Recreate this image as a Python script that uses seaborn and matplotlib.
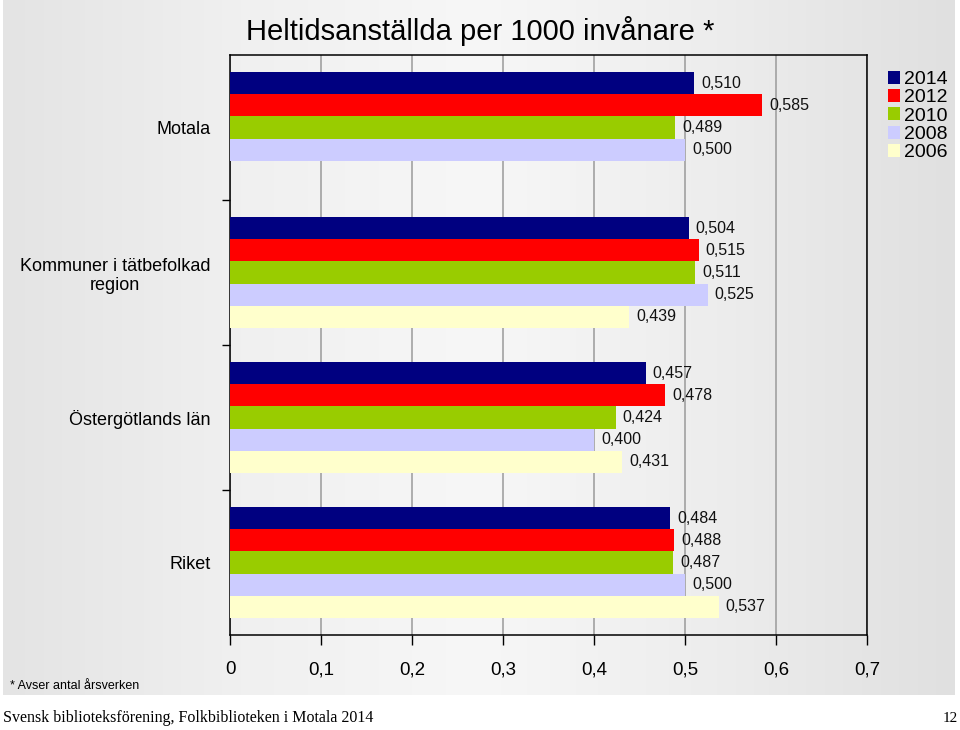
import numpy as np
import pandas as pd
import matplotlib
matplotlib.use('Agg')
import matplotlib.pyplot as plt
from matplotlib.colors import LinearSegmentedColormap
import seaborn as sns

# data
categories = ['Motala', 'Kommuner i tätbefolkad\nregion', 'Östergötlands län', 'Riket']
years = ['2014', '2012', '2010', '2008', '2006']
v2014 = [0.510, 0.504, 0.457, 0.484]
v2012 = [0.585, 0.515, 0.478, 0.488]
v2010 = [0.489, 0.511, 0.424, 0.487]
v2008 = [0.500, 0.525, 0.400, 0.500]
v2006 = [np.nan, 0.439, 0.431, 0.537]
colors = ['#000080', '#FF0000', '#99CC00', '#CCCCFF', '#FFFFCC']
xticks = [0, 0.1, 0.2, 0.3, 0.4, 0.5, 0.6, 0.7]

rows = []
for yr, vals in zip(years, [v2014, v2012, v2010, v2008, v2006]):
    for cat, v in zip(categories, vals):
        rows.append({'region': cat, 'year': yr, 'value': v})
df = pd.DataFrame(rows)

def main():
    sns.set_theme(style='white')
    plt.rcParams['font.family'] = ['Liberation Sans', 'DejaVu Sans']
    plt.rcParams['text.color'] = 'black'
    plt.rcParams['xtick.color'] = 'black'
    plt.rcParams['ytick.color'] = 'black'

    fig = plt.figure(figsize=(9.6, 7.3), dpi=100)
    fig.patch.set_facecolor('white')

    # grey gradient backdrop
    bg = fig.add_axes([0.003, 35 / 730, 952 / 960, 695 / 730], zorder=-5)
    cmap = LinearSegmentedColormap.from_list('bg', ['#E4E4E4', '#F0F0F0', '#F7F7F7', '#EDEDED', '#E0E0E0'])
    bg.imshow(np.linspace(0, 1, 256).reshape(1, -1), aspect='auto', cmap=cmap, extent=[0, 1, 0, 1])
    bg.axis('off')

    ax = fig.add_axes([230 / 960, 1 - 635 / 730, 637 / 960, 580 / 730])
    ax.set_facecolor('none')

    sns.barplot(data=df, y='region', x='value', hue='year', hue_order=years,
                order=categories, palette=colors, orient='h', width=0.76,
                saturation=1, errorbar=None, linewidth=0, ax=ax, zorder=3)

    for cont in ax.containers:
        widths = [b.get_width() for b in cont]
        labels = [f"{w:.3f}".replace('.', ',') if np.isfinite(w) and w > 0 else '' for w in widths]
        ax.bar_label(cont, labels=labels, padding=5, fontsize=11.5, color='#111111')

    ax.set_xlim(0, 0.7)
    ax.set_ylim(3.5, -0.5)
    ax.set_xticks(xticks)
    ax.set_xticklabels([('%.1f' % t).replace('.', ',') if t else '0' for t in xticks], fontsize=13.5)
    ax.tick_params(axis='x', which='major', direction='out', length=7, width=1, pad=12, color='black', bottom=True)
    ax.set_yticks(range(len(categories)))
    ax.set_yticklabels(categories, fontsize=13, multialignment='center')
    ax.set_yticks([0.5, 1.5, 2.5], minor=True)
    ax.tick_params(axis='y', which='major', length=0, pad=14)
    ax.tick_params(axis='y', which='minor', length=6, width=1, color='black', left=True)
    ax.xaxis.grid(True, color='#9A9A9A', linewidth=1.1, zorder=0)
    ax.set_axisbelow(True)
    for s in ax.spines.values():
        s.set_color('black')
        s.set_linewidth(1.1)
    ax.set_xlabel('')
    ax.set_ylabel('')

    handles, labels = ax.get_legend_handles_labels()
    ax.get_legend().remove()
    fig.legend(handles, labels, loc='upper left', bbox_to_anchor=(878 / 960, 1 - 61 / 730),
               frameon=False, fontsize=14, handlelength=0.65, handleheight=0.65,
               handletextpad=0.2, labelspacing=0.05, borderpad=0)

    fig.text(0.5, 1 - 31 / 730, 'Heltidsanställda per 1000 invånare *', ha='center', va='center', fontsize=21)
    fig.text(10 / 960, 1 - 686 / 730, '* Avser antal årsverken', ha='left', va='center', fontsize=9)
    fig.text(3 / 960, 1 - 718 / 730, 'Svensk biblioteksförening, Folkbiblioteken i Motala 2014',
             ha='left', va='center', fontsize=11.5, family='Liberation Serif')
    fig.text(958 / 960, 1 - 718 / 730, '12', ha='right', va='center', fontsize=11, family='Liberation Serif')

    fig.savefig('out.png', dpi=100)
    plt.close(fig)

if __name__ == "__main__":
    main()
